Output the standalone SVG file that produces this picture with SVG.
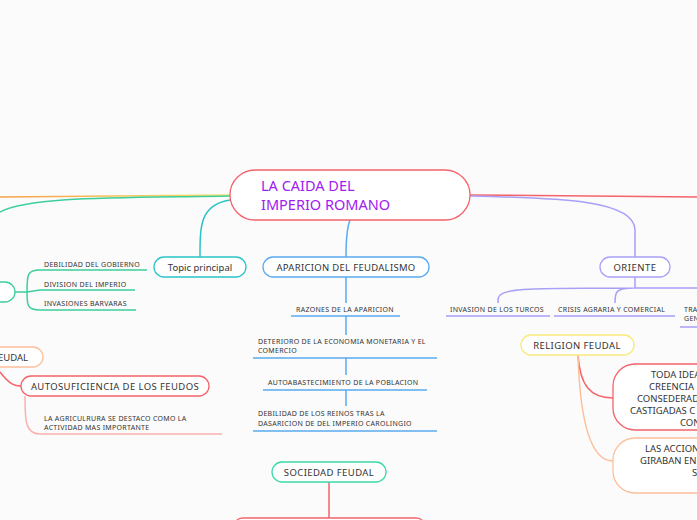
<svg xmlns="http://www.w3.org/2000/svg" width="697" height="520" viewBox="0 0 697 520">
<defs>
<linearGradient id="gy" x1="0" x2="1"><stop offset="0" stop-color="#f7a04a"/><stop offset="1" stop-color="#f5e06a"/></linearGradient>
<style>
text{font-family:"Noto Sans","DejaVu Sans",sans-serif;fill:#333}
.s{font-size:7px;letter-spacing:0.3px}
.m{font-size:9.5px}
.n{fill:#fff;stroke-width:1.3}
.c{fill:none;stroke-width:1.5}
</style>
</defs>
<rect width="697" height="520" fill="#fbfbfb"/>
<g id="connectors">
<path class="c" d="M230 195 L0 197" stroke="url(#gy)" stroke-width="2"/>
<path class="c" d="M230 196 C120 198 30 196 0 212" stroke="#3ccf9a"/>
<path class="c" d="M230 200 C200 205 200 225 200 257" stroke="#2bc3c8"/>
<path class="c" d="M350 220 C346 230 346 245 346 257" stroke="#5aaaf0"/>
<path class="c" d="M470 195 L697 197" stroke="#f4636a" stroke-width="2"/>
<path class="c" d="M470 196 C560 198 635 200 635 230 L635 257" stroke="#a8a0f8"/>
<path class="c" d="M15 292 L27 292 M27 292 C27 275 27 270 40 270 L147 270 M27 292 L40 290 L135 290 M27 292 C27 305 27 310 40 310 L136 310" stroke="#3ccf9a" stroke-width="1"/>
<path class="c" d="M0 372 C10 385 15 386 21 386" stroke="#f4636a"/>
<path class="c" d="M25 396 C25 420 25 434 40 434 L222 434" stroke="#fbb0b0" stroke-width="1"/>
<path class="c" d="M346 277 L346 303 M346 316 L346 335 M346 358 L346 375 M346 390 L346 406" stroke="#5aaaf0" stroke-width="1"/>
<path class="c" d="M291 316 L400 316 M253 358 L437 358 M263 390 L427 390 M253 431 L437 431" stroke="#5aaaf0" stroke-width="1"/>
<path class="c" d="M329 482 L329 520" stroke="#f4636a"/>
<path class="c" d="M635 277 L635 288 M635 288 C520 288 498 288 498 300 L498 303 M635 288 C615 288 615 292 615 303 M635 288 L697 288" stroke="#a8a0f8" stroke-width="1.2"/>
<path class="c" d="M446 316 L550 316 M554 316 L675 316 M680 327 L697 327" stroke="#a8a0f8" stroke-width="1"/>
<path class="c" d="M578 355 C580 385 590 398 613 398" stroke="#f4636a"/>
<path class="c" d="M578 355 C580 420 590 461 613 461" stroke="#fdbf9a"/>
</g>
<g id="central"><rect class="n" x="230" y="170" width="240" height="50" rx="25" stroke="#f4636a" stroke-width="2.5"/>
<text x="261" y="191" font-size="14.5" style="fill:#a020f0">LA CAIDA DEL</text><text x="261" y="210" font-size="14.5" style="fill:#a020f0">IMPERIO ROMANO</text></g>
<g id="topic"><rect class="n" x="154" y="257" width="92" height="20" rx="10" stroke="#2bc3c8"/><text class="m" x="200" y="270.5" text-anchor="middle">Topic principal</text></g>
<g id="aparicion"><rect class="n" x="263" y="257" width="166" height="20" rx="10" stroke="#5aaaf0"/><text class="m" x="346" y="270.5" text-anchor="middle" letter-spacing="0.3">APARICION DEL FEUDALISMO</text></g>
<g id="oriente"><rect class="n" x="600" y="257" width="70" height="20" rx="10" stroke="#a8a0f8"/><text class="m" x="635" y="270.5" text-anchor="middle" letter-spacing="0.5">ORIENTE</text></g>
<g id="left-green"><rect class="n" x="-25" y="282" width="40" height="20" rx="10" stroke="#3ccf9a"/></g>
<g id="causas"><text class="s" x="44" y="267">DEBILIDAD DEL GOBIERNO</text><text class="s" x="44" y="287">DIVISION DEL IMPERIO</text><text class="s" x="44" y="306">INVASIONES BARVARAS</text></g>
<g id="feudal-left"><rect class="n" x="-30" y="347" width="73" height="20" rx="10" stroke="#fdbf9a"/><text class="m" x="-7" y="360.5">FEUDAL</text></g>
<g id="autosuf"><rect class="n" x="21" y="376" width="188" height="20" rx="10" stroke="#f4636a"/><text class="m" x="115" y="389.5" text-anchor="middle" letter-spacing="0.4">AUTOSUFICIENCIA DE LOS FEUDOS</text></g>
<g id="agric"><text class="s" x="44" y="421">LA AGRICULRURA SE DESTACO COMO LA</text><text class="s" x="44" y="430">ACTIVIDAD MAS IMPORTANTE</text></g>
<g id="razones"><text class="s" x="296" y="312">RAZONES DE LA APARICION</text>
<text class="s" x="258" y="344">DETERIORO DE LA ECONOMIA MONETARIA Y EL</text><text class="s" x="258" y="353">COMERCIO</text>
<text class="s" x="268" y="385">AUTOABASTECIMIENTO DE LA POBLACION</text>
<text class="s" x="258" y="416">DEBILIDAD DE LOS REINOS TRAS LA</text><text class="s" x="258" y="426">DASARICION DE DEL IMPERIO CAROLINGIO</text></g>
<g id="sociedad"><rect class="n" x="272" y="462" width="114" height="20" rx="10" stroke="#3cd9a8"/><text class="m" x="329" y="475.5" text-anchor="middle" letter-spacing="0.4">SOCIEDAD FEUDAL</text></g>
<g id="sociedad-child"><rect class="n" x="233" y="518" width="193" height="20" rx="10" stroke="#f4636a"/></g>
<g id="oriente-items"><text class="s" x="450" y="312">INVASION DE LOS TURCOS</text><text class="s" x="558" y="312">CRISIS AGRARIA Y COMERCIAL</text><text class="s" x="684" y="312">TRA</text><text class="s" x="684" y="321">GEN</text></g>
<g id="religion"><rect class="n" x="521" y="335" width="113" height="20" rx="10" stroke="#fbe97a"/><text class="m" x="577" y="348.5" text-anchor="middle" letter-spacing="0.4">RELIGION FEUDAL</text></g>
<g id="toda"><rect class="n" x="613" y="364" width="110" height="66" rx="22" stroke="#f4636a"/>
<text class="m" x="651" y="378">TODA IDEA</text><text class="m" x="649" y="390">CREENCIA</text><text class="m" x="637" y="402">CONSEDERAD</text><text class="m" x="630" y="414">CASTIGADAS C</text><text class="m" x="680" y="426">CON</text></g>
<g id="acciones"><rect class="n" x="613" y="438" width="110" height="55" rx="22" stroke="#fdbf9a"/>
<text class="m" x="645" y="452">LAS ACCION</text><text class="m" x="640" y="464">GIRABAN EN</text><text class="m" x="692" y="476">S</text></g>
</svg>
